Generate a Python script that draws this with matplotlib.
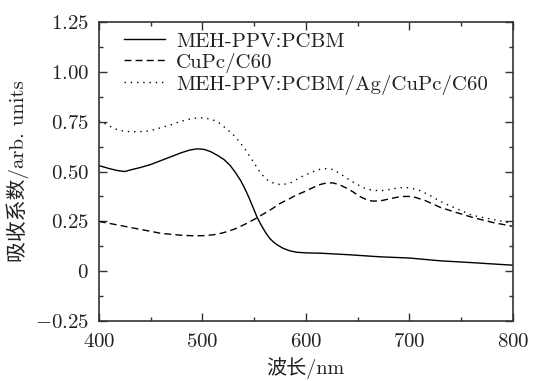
import matplotlib
matplotlib.use("Agg")
import matplotlib.pyplot as plt
import numpy as np
from matplotlib.ticker import MultipleLocator, FuncFormatter

plt.rcParams['font.family'] = ['cmr10', 'Noto Sans CJK SC', 'DejaVu Sans']
plt.rcParams['mathtext.fontset'] = 'cm'
plt.rcParams['axes.formatter.use_mathtext'] = True

# MEH-PPV:PCBM
wl_a = [400, 410, 418, 425, 432, 440, 450, 460, 470, 480, 488, 495, 502, 508, 515, 521, 527,
        532, 537, 541, 545, 549, 553, 557, 561, 565, 569, 573, 578, 584, 591, 600, 615, 640,
        672, 700, 730, 760, 800]
abs_a = [0.53, 0.515, 0.505, 0.50, 0.51, 0.52, 0.535, 0.555, 0.575, 0.595, 0.608, 0.614, 0.611,
         0.60, 0.58, 0.56, 0.53, 0.495, 0.455, 0.415, 0.37, 0.32, 0.27, 0.23, 0.195, 0.165,
         0.145, 0.13, 0.115, 0.103, 0.095, 0.092, 0.09, 0.083, 0.072, 0.066, 0.052, 0.043, 0.03]

# CuPc/C60
wl_b = [400, 415, 430, 445, 460, 470, 480, 490, 500, 510, 518, 525, 533, 543, 552, 560, 568,
        575, 583, 590, 599, 607, 614, 620, 626, 632, 638, 645, 652, 659, 664, 668, 674, 680,
        687, 694, 700, 706, 715, 730, 745, 761, 780, 800]
abs_b = [0.25, 0.235, 0.22, 0.205, 0.19, 0.185, 0.18, 0.178, 0.178, 0.182, 0.19, 0.2, 0.215,
         0.24, 0.265, 0.29, 0.315, 0.34, 0.36, 0.38, 0.40, 0.42, 0.435, 0.443, 0.443, 0.435,
         0.42, 0.40, 0.375, 0.358, 0.352, 0.352, 0.355, 0.362, 0.37, 0.375, 0.375, 0.37,
         0.355, 0.32, 0.295, 0.27, 0.245, 0.225]

# MEH-PPV:PCBM/Ag/CuPc/C60
wl_c = [400, 408, 415, 422, 430, 440, 450, 460, 470, 478, 485, 492, 497, 503, 510, 516, 522,
        529, 535, 541, 546, 551, 556, 561, 565, 570, 575, 580, 586, 591, 598, 605, 611, 616,
        621, 626, 633, 640, 648, 655, 661, 667, 674, 681, 689, 697, 703, 710, 720, 730, 745,
        761, 780, 800]
abs_c = [0.755, 0.735, 0.715, 0.705, 0.70, 0.70, 0.705, 0.72, 0.735, 0.75, 0.76, 0.767,
         0.77, 0.768, 0.76, 0.745, 0.72, 0.69, 0.655, 0.615, 0.575, 0.535, 0.495, 0.465,
         0.45, 0.44, 0.435, 0.437, 0.445, 0.46, 0.48, 0.495, 0.508, 0.514, 0.515, 0.51,
         0.49, 0.465, 0.44, 0.42, 0.41, 0.405, 0.405, 0.41, 0.418, 0.42, 0.415, 0.405,
         0.38, 0.35, 0.315, 0.28, 0.26, 0.24]

fig = plt.figure(figsize=(5.37, 3.81), dpi=100)
ax = fig.add_axes([0.184, 0.1575, 0.771, 0.7845])

ax.plot(wl_a, abs_a, color='black', lw=1.0, linestyle='-', label='MEH-PPV:PCBM')
ax.plot(wl_b, abs_b, color='black', lw=1.0, linestyle=(0, (5, 3)), label='CuPc/C60')
ax.plot(wl_c, abs_c, color='black', lw=1.0, linestyle=(0, (1, 3.5)),
        label='MEH-PPV:PCBM/Ag/CuPc/C60')

ax.set_xlim(400, 800)
ax.set_ylim(-0.25, 1.25)
ax.xaxis.set_major_locator(MultipleLocator(100))
ax.xaxis.set_minor_locator(MultipleLocator(50))
ax.yaxis.set_major_locator(MultipleLocator(0.25))
ax.yaxis.set_minor_locator(MultipleLocator(0.125))
ax.xaxis.set_major_formatter(FuncFormatter(lambda v, p: f'${v:.0f}$'))
ax.yaxis.set_major_formatter(FuncFormatter(lambda v, p: '$0$' if abs(v) < 1e-9 else f'${v:.2f}$'))
ax.tick_params(which='both', direction='in', top=True, right=True, labelsize=15,
               colors='#333333', labelcolor='#222222')
ax.tick_params(axis='x', which='major', pad=9)
ax.tick_params(axis='y', which='major', pad=7)
ax.tick_params(which='major', length=6, width=1)
ax.tick_params(which='minor', length=3, width=1)
for s in ax.spines.values():
    s.set_linewidth(1.2)
    s.set_color('#333333')

ax.set_xlabel('波长/nm', fontsize=14.5, labelpad=4, color='#222222')
ax.set_ylabel('吸收系数/arb. units', fontsize=15, labelpad=4, color='#222222')

ax.legend(loc='upper left', bbox_to_anchor=(0.04, 0.995), frameon=False, fontsize=15,
          handlelength=2.0, borderaxespad=0.0, borderpad=0.4, labelspacing=0.1,
          handletextpad=0.5, labelcolor='#222222')

fig.savefig('out.png', dpi=100)
